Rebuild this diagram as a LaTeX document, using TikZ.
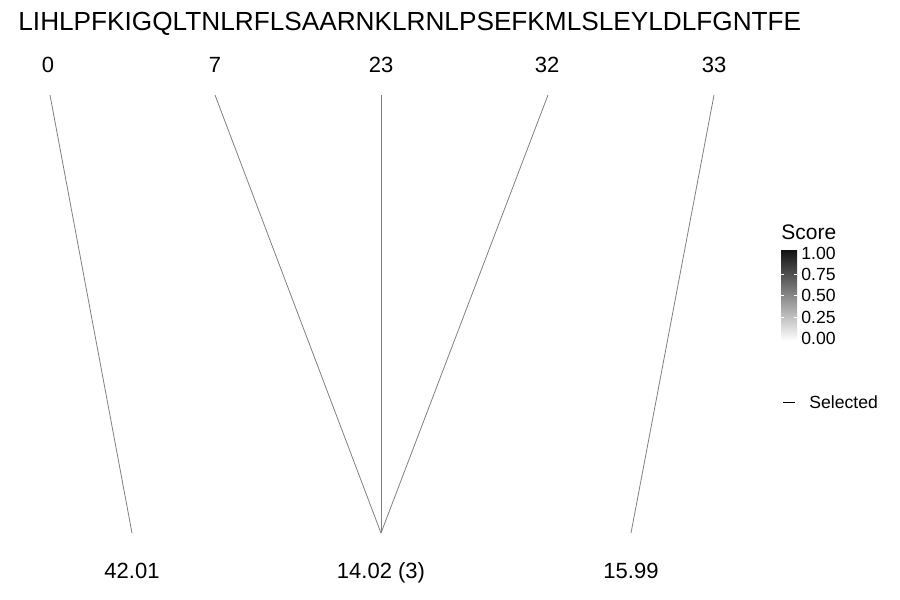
\documentclass[tikz,border=0pt]{standalone}
\usepackage{fontspec}
\setmainfont{Liberation Sans}
\begin{document}
\begin{tikzpicture}[x=0.5pt,y=-0.5pt]
\tikzstyle{seq}=[inner sep=0pt,anchor=base west,font=\fontsize{13.1}{15}\selectfont]
\tikzstyle{cutpos}=[inner sep=0pt,anchor=base,font=\fontsize{11}{13}\selectfont]
\tikzstyle{keyname}=[inner sep=0pt,anchor=base west,font=\fontsize{10.5}{12}\selectfont]
\tikzstyle{keytick}=[inner sep=0pt,anchor=west,font=\fontsize{8.8}{10}\selectfont]
\tikzstyle{link}=[draw=gray,line width=0.4pt]
\useasboundingbox (0,0) rectangle (900,600);
% sequence and cut positions
\node [seq] (seq) at (18,30) {LIHLPFKIGQLTNLRFLSAARNKLRNLPSEFKMLSLEYLDLFGNTFE};
\node [cutpos] (p0) at (48,72) {0};
\node [cutpos] (p7) at (215,72) {7};
\node [cutpos] (p23) at (381,72) {23};
\node [cutpos] (p32) at (547,72) {32};
\node [cutpos] (p33) at (714,72) {33};
% fragment scores
\node [cutpos] (f1) at (132,578) {42.01};
\node [cutpos] (f2) at (381,578) {14.02 (3)};
\node [cutpos] (f3) at (631,578) {15.99};
% line ends
\coordinate (u0) at (50,95);
\coordinate (u7) at (215,95);
\coordinate (u23) at (381,95);
\coordinate (u32) at (548,95);
\coordinate (u33) at (714,95);
\coordinate (v1) at (132,533);
\coordinate (v2) at (381,533);
\coordinate (v3) at (631,533);
\draw [link] (u0) -- (v1);
\draw [link] (u7) -- (v2);
\draw [link] (u23) -- (v2);
\draw [link] (u32) -- (v2);
\draw [link] (u33) -- (v3);
% legend
\node [keyname] (score) at (781,239) {Score};
\shade [top color=black!93,bottom color=white] (781,250) rectangle (797,341);
\foreach \y/\v in {274/0.75,295.5/0.50,317/0.25}{
  \draw [white,line width=0.3pt] (781,\y) -- (784,\y);
  \draw [white,line width=0.3pt] (794,\y) -- (797,\y);
}
\foreach \y/\v in {253/1.00,274/0.75,295.5/0.50,317/0.25,338/0.00}{
  \node [keytick] at (801,\y) {\v};
}
\coordinate (s0) at (783,402);
\coordinate (s1) at (795,402);
\draw [black,line width=0.35pt] (s0) -- (s1);
\node [keytick] (sel) at (809,402) {Selected};
\end{tikzpicture}
\end{document}
